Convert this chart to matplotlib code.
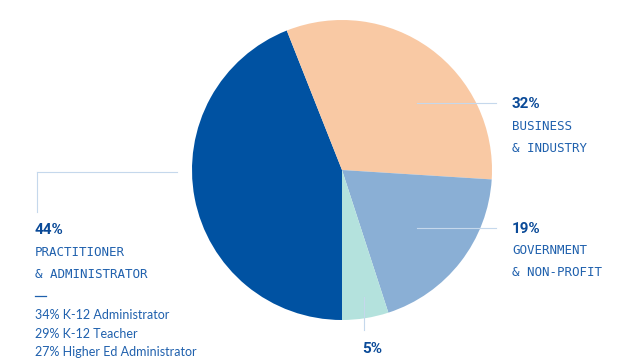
import matplotlib.pyplot as plt

# data
shares = [44, 32, 19, 5]
names = ["PRACTITIONER\n& ADMINISTRATOR", "BUSINESS\n& INDUSTRY", "GOVERNMENT\n& NON-PROFIT", ""]
colors = ["#0052a2", "#f9c9a4", "#8aafd5", "#b4e2dd"]
sub_shares = [34, 29, 27]
sub_names = ["K-12 Administrator", "K-12 Teacher", "Higher Ed Administrator"]

W, H = 640, 360
fig = plt.figure(figsize=(6.4, 3.6), dpi=100)
ax = fig.add_axes([0, 0, 1, 1])

def py(y):
    return H - y

ax.pie(shares, colors=colors, startangle=270, counterclock=False,
       center=(342, py(170)), radius=150, frame=True,
       wedgeprops=dict(linewidth=0))
ax.set_xlim(0, W)
ax.set_ylim(0, H)
ax.set_aspect("equal")
ax.axis("off")

line_c = "#c5d8ec"
txt_c = "#1f60ad"
pct_c = "#0a4a98"
mono = "DejaVu Sans Mono"

# leader lines
ax.plot([37, 177], [py(172), py(172)], color=line_c, lw=0.8)
ax.plot([37, 37], [py(172), py(212)], color=line_c, lw=0.8)
ax.plot([417, 496], [py(103), py(103)], color=line_c, lw=0.8)
ax.plot([417, 496], [py(228), py(228)], color=line_c, lw=0.8)
ax.plot([364, 364], [py(297), py(330)], color=line_c, lw=0.8)

def label(x, y, pct, name):
    ax.text(x, py(y), f"{pct}%", color=pct_c, fontsize=11, fontweight="bold",
            family="Roboto", va="center", ha="left")
    for i, part in enumerate(name.split("\n")):
        ax.text(x, py(y + 22 + 22 * i), part, color=txt_c, fontsize=9,
                family=mono, va="center", ha="left")

label(35, 230, shares[0], names[0])
label(512, 104, shares[1], names[1])
label(512, 229, shares[2], names[2])
ax.text(372, py(349), f"{shares[3]}%", color=pct_c, fontsize=11, fontweight="bold",
        family="Roboto", va="center", ha="center")

ax.plot([35, 46], [py(296), py(296)], color=txt_c, lw=0.9)
for i, (s, n) in enumerate(zip(sub_shares, sub_names)):
    ax.text(35, py(315 + 18.5 * i), f"{s}% {n}", color=txt_c, fontsize=9,
            family="Lato", va="center", ha="left")

fig.savefig("out.png", dpi=100, facecolor="white")
